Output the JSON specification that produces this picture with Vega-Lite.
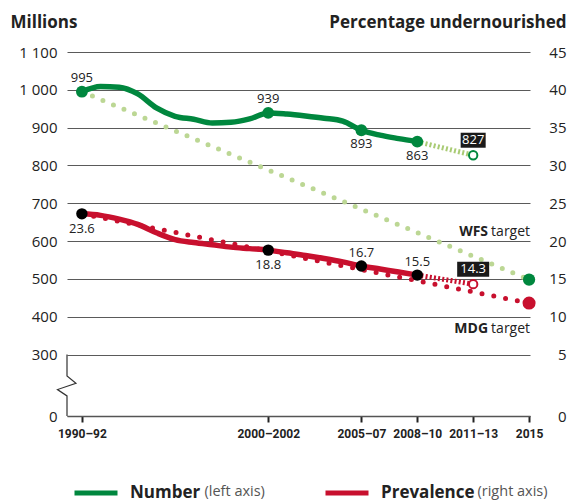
{
  "$schema": "https://vega.github.io/schema/vega-lite/v6.json",
  "width": 463,
  "height": 364,
  "autosize": {"type": "none"},
  "padding": {"left": 67, "top": 52, "right": 38, "bottom": 86},
  "config": {"font": "Open Sans", "view": {"stroke": null}},
  "datasets": {
    "green": [
      {"year": 1991, "millions": 995, "series": "Number", "axisNote": "(left axis)"},
      {"year": 1992, "millions": 1009, "series": "Number", "axisNote": "(left axis)"},
      {"year": 1993, "millions": 1007, "series": "Number", "axisNote": "(left axis)"},
      {"year": 1994, "millions": 989, "series": "Number", "axisNote": "(left axis)"},
      {"year": 1995, "millions": 952, "series": "Number", "axisNote": "(left axis)"},
      {"year": 1996, "millions": 930, "series": "Number", "axisNote": "(left axis)"},
      {"year": 1997, "millions": 922, "series": "Number", "axisNote": "(left axis)"},
      {"year": 1998, "millions": 912, "series": "Number", "axisNote": "(left axis)"},
      {"year": 1999, "millions": 914, "series": "Number", "axisNote": "(left axis)"},
      {"year": 2000, "millions": 923, "series": "Number", "axisNote": "(left axis)"},
      {"year": 2001, "millions": 939, "series": "Number", "axisNote": "(left axis)"},
      {"year": 2002, "millions": 936, "series": "Number", "axisNote": "(left axis)"},
      {"year": 2003, "millions": 931, "series": "Number", "axisNote": "(left axis)"},
      {"year": 2004, "millions": 925, "series": "Number", "axisNote": "(left axis)"},
      {"year": 2005, "millions": 917, "series": "Number", "axisNote": "(left axis)"},
      {"year": 2006, "millions": 893, "series": "Number", "axisNote": "(left axis)"},
      {"year": 2007, "millions": 880, "series": "Number", "axisNote": "(left axis)"},
      {"year": 2008, "millions": 871, "series": "Number", "axisNote": "(left axis)"},
      {"year": 2009, "millions": 863, "series": "Number", "axisNote": "(left axis)"}
    ],
    "greenProj": [{"year": 2009, "millions": 863}, {"year": 2012, "millions": 827}],
    "wfs": [{"year": 1991, "millions": 995}, {"year": 2015, "millions": 498}],
    "greenPts": [
      {"year": 1991, "millions": 995, "label": "995"},
      {"year": 2001, "millions": 939, "label": "939"},
      {"year": 2006, "millions": 893, "label": "893"},
      {"year": 2009, "millions": 863, "label": "863"}
    ],
    "greenOpen": [{"year": 2012, "millions": 827, "label": "827"}],
    "wfsPt": [{"year": 2015, "millions": 498, "name": "WFS"}],
    "axisBreak": [
      {"i": 0, "year": 1990.2, "millions": 300},
      {"i": 1, "year": 1990.2, "millions": 195},
      {"i": 2, "year": 1990.68, "millions": 160},
      {"i": 3, "year": 1989.69, "millions": 129},
      {"i": 4, "year": 1990.2, "millions": 98},
      {"i": 5, "year": 1990.2, "millions": 0}
    ],
    "red": [
      {"year": 1991, "pct": 23.6, "series": "Prevalence", "axisNote": "(right axis)"},
      {"year": 1992, "pct": 23.4, "series": "Prevalence", "axisNote": "(right axis)"},
      {"year": 1993, "pct": 22.9, "series": "Prevalence", "axisNote": "(right axis)"},
      {"year": 1994, "pct": 22.2, "series": "Prevalence", "axisNote": "(right axis)"},
      {"year": 1995, "pct": 21.1, "series": "Prevalence", "axisNote": "(right axis)"},
      {"year": 1996, "pct": 20.2, "series": "Prevalence", "axisNote": "(right axis)"},
      {"year": 1997, "pct": 19.8, "series": "Prevalence", "axisNote": "(right axis)"},
      {"year": 1998, "pct": 19.5, "series": "Prevalence", "axisNote": "(right axis)"},
      {"year": 1999, "pct": 19.2, "series": "Prevalence", "axisNote": "(right axis)"},
      {"year": 2000, "pct": 19.0, "series": "Prevalence", "axisNote": "(right axis)"},
      {"year": 2001, "pct": 18.8, "series": "Prevalence", "axisNote": "(right axis)"},
      {"year": 2002, "pct": 18.45, "series": "Prevalence", "axisNote": "(right axis)"},
      {"year": 2003, "pct": 18.1, "series": "Prevalence", "axisNote": "(right axis)"},
      {"year": 2004, "pct": 17.7, "series": "Prevalence", "axisNote": "(right axis)"},
      {"year": 2005, "pct": 17.25, "series": "Prevalence", "axisNote": "(right axis)"},
      {"year": 2006, "pct": 16.7, "series": "Prevalence", "axisNote": "(right axis)"},
      {"year": 2007, "pct": 16.3, "series": "Prevalence", "axisNote": "(right axis)"},
      {"year": 2008, "pct": 15.9, "series": "Prevalence", "axisNote": "(right axis)"},
      {"year": 2009, "pct": 15.5, "series": "Prevalence", "axisNote": "(right axis)"}
    ],
    "redProj": [{"year": 2009, "pct": 15.5}, {"year": 2012, "pct": 14.3}],
    "mdg": [{"year": 1991, "pct": 23.6}, {"year": 2015, "pct": 11.8}],
    "redPts": [
      {"year": 1991, "pct": 23.6, "label": "23.6"},
      {"year": 2001, "pct": 18.8, "label": "18.8"},
      {"year": 2006, "pct": 16.7, "label": "16.7"},
      {"year": 2009, "pct": 15.5, "label": "15.5"}
    ],
    "redOpen": [{"year": 2012, "pct": 14.3, "label": "14.3"}],
    "mdgPt": [{"year": 2015, "pct": 11.8, "name": "MDG"}]
  },
  "encoding": {
    "x": {
      "field": "year",
      "type": "quantitative",
      "scale": {"domain": [1990.2, 2015.05], "nice": false, "zero": false},
      "axis": {
        "values": [1991, 2001, 2006, 2009, 2012, 2015],
        "labelExpr": "datum.value == 1991 ? '1990–92' : datum.value == 2001 ? '2000–2002' : datum.value == 2006 ? '2005–07' : datum.value == 2009 ? '2008–10' : datum.value == 2012 ? '2011–13' : '2015'",
        "title": null,
        "grid": false,
        "domainColor": "#555",
        "domainWidth": 1.5,
        "tickColor": "#222",
        "tickWidth": 2,
        "tickSize": 6,
        "labelFont": "Roboto",
        "labelFontWeight": "bold",
        "labelFontSize": 12,
        "labelColor": "#222",
        "labelPadding": 6,
        "labelOverlap": false,
        "labelFlush": false,
        "labelBound": false
      }
    }
  },
  "layer": [
    {
      "encoding": {
        "y": {
          "field": "millions",
          "type": "quantitative",
          "scale": {"domain": [0, 300, 1100], "range": [364, 302.5, 0], "nice": false, "zero": false},
          "axis": {
            "orient": "left",
            "values": [0, 300, 400, 500, 600, 700, 800, 900, 1000, 1100],
            "labelExpr": "datum.value == 1100 ? '1 100' : datum.value == 1000 ? '1 000' : datum.label",
            "grid": true,
            "gridColor": "#5a5a5a",
            "gridWidth": 1.2,
            "domain": false,
            "ticks": false,
            "labelPadding": 10,
            "labelFontSize": 15,
            "labelColor": "#222",
            "labelFlush": false,
            "labelOverlap": false,
            "title": "Millions",
            "titleAngle": 0,
            "titleAlign": "left",
            "titleBaseline": "alphabetic",
            "titleX": -57,
            "titleY": -25,
            "titleFontSize": 17,
            "titleFontWeight": "bold",
            "titleColor": "#222"
          }
        }
      },
      "layer": [
        {
          "data": {"name": "wfs"},
          "mark": {"type": "line", "color": "#bcd794", "strokeWidth": 5, "strokeDash": [0, 11.4], "strokeCap": "round"}
        },
        {
          "data": {"name": "green"},
          "mark": {"type": "line", "strokeWidth": 5.5, "interpolate": "monotone", "strokeCap": "round"},
          "encoding": {
            "color": {
              "field": "series",
              "type": "nominal",
              "scale": {"domain": ["Number", "Prevalence"], "range": ["#00873e", "#c8102e"]},
              "legend": {
                "orient": "none",
                "legendX": 5,
                "legendY": 417,
                "direction": "horizontal",
                "title": null,
                "symbolType": "stroke",
                "symbolSize": 1849,
                "symbolStrokeWidth": 5,
                "labelFontSize": 17,
                "labelFontWeight": "bold",
                "labelColor": "#222",
                "labelOffset": 10,
                "columnPadding": 114,
                "padding": 0
              }
            },
            "opacity": {
              "field": "axisNote",
              "type": "ordinal",
              "scale": {"domain": ["(left axis)", "(right axis)"], "range": [1, 1]},
              "legend": {
                "orient": "none",
                "legendX": 123,
                "legendY": 433,
                "direction": "horizontal",
                "title": null,
                "symbolType": "circle",
                "symbolSize": 0,
                "symbolStrokeWidth": 0,
                "symbolStrokeColor": "transparent",
                "symbolFillColor": "transparent",
                "symbolOpacity": 0,
                "labelFontSize": 14.5,
                "labelColor": "#555",
                "labelOffset": 0,
                "columnPadding": 198,
                "padding": 0
              }
            }
          }
        },
        {
          "data": {"name": "greenProj"},
          "mark": {"type": "line", "color": "#a9cb74", "strokeWidth": 5, "strokeDash": [2, 2.2]}
        },
        {
          "data": {"name": "axisBreak"},
          "mark": {"type": "line", "color": "#333", "strokeWidth": 1.2},
          "encoding": {"order": {"field": "i", "type": "quantitative"}}
        },
        {
          "data": {"name": "greenPts"},
          "mark": {"type": "point", "shape": "circle", "filled": true, "size": 140, "color": "#00873e", "opacity": 1}
        },
        {
          "data": {"name": "wfsPt"},
          "mark": {"type": "point", "shape": "circle", "filled": true, "size": 150, "color": "#00873e", "opacity": 1}
        },
        {
          "data": {"name": "greenOpen"},
          "mark": {"type": "point", "shape": "circle", "filled": false, "fill": "white", "stroke": "#00873e", "strokeWidth": 2, "size": 70, "opacity": 1}
        },
        {
          "data": {"name": "greenPts"},
          "transform": [{"filter": "datum.year == 1991 || datum.year == 2001"}],
          "mark": {"type": "text", "fontSize": 13, "color": "#222", "baseline": "alphabetic", "dy": -10},
          "encoding": {"text": {"field": "label"}}
        },
        {
          "data": {"name": "greenPts"},
          "transform": [{"filter": "datum.year == 2006 || datum.year == 2009"}],
          "mark": {"type": "text", "fontSize": 13, "color": "#222", "baseline": "top", "dy": 8},
          "encoding": {"text": {"field": "label"}}
        },
        {
          "data": {"name": "greenOpen"},
          "mark": {"type": "point", "shape": "M-1,-0.6H1V0.6H-1Z", "filled": true, "color": "#1a1a1a", "size": 625, "opacity": 1, "yOffset": -15}
        },
        {
          "data": {"name": "greenOpen"},
          "mark": {"type": "text", "fontSize": 13, "color": "white", "baseline": "middle", "dy": -15},
          "encoding": {"text": {"field": "label"}}
        },
        {
          "data": {"name": "wfsPt"},
          "mark": {"type": "text", "fontSize": 14, "color": "#222", "align": "right", "baseline": "alphabetic", "dy": -44, "dx": 1},
          "encoding": {"text": {"value": "target"}}
        },
        {
          "data": {"name": "wfsPt"},
          "mark": {"type": "text", "fontSize": 14, "fontWeight": "bold", "color": "#222", "align": "right", "baseline": "alphabetic", "dy": -44, "dx": -41},
          "encoding": {"text": {"field": "name"}}
        }
      ]
    },
    {
      "encoding": {
        "y": {
          "field": "pct",
          "type": "quantitative",
          "scale": {"domain": [0, 5, 45], "range": [364, 302.5, 0], "nice": false, "zero": false},
          "axis": {
            "orient": "right",
            "values": [0, 5, 10, 15, 20, 25, 30, 35, 40, 45],
            "grid": false,
            "domain": false,
            "ticks": false,
            "labelAlign": "right",
            "labelPadding": 36,
            "labelFontSize": 15,
            "labelColor": "#222",
            "labelFlush": false,
            "labelOverlap": false,
            "title": "Percentage undernourished",
            "titleAngle": 0,
            "titleAlign": "right",
            "titleBaseline": "alphabetic",
            "titleX": 36,
            "titleY": -25,
            "titleFontSize": 17,
            "titleFontWeight": "bold",
            "titleColor": "#222"
          }
        }
      },
      "layer": [
        {
          "data": {"name": "mdg"},
          "mark": {"type": "line", "color": "#c8102e", "strokeWidth": 5, "strokeDash": [0, 12], "strokeCap": "round"}
        },
        {
          "data": {"name": "red"},
          "mark": {"type": "line", "strokeWidth": 5.5, "interpolate": "monotone", "strokeCap": "round"},
          "encoding": {
            "color": {"field": "series", "type": "nominal"},
            "opacity": {"field": "axisNote", "type": "ordinal"}
          }
        },
        {
          "data": {"name": "redProj"},
          "mark": {"type": "line", "color": "#c8102e", "strokeWidth": 5, "strokeDash": [2, 2.2]}
        },
        {
          "data": {"name": "redPts"},
          "mark": {"type": "point", "shape": "circle", "filled": true, "size": 130, "color": "#000", "opacity": 1}
        },
        {
          "data": {"name": "mdgPt"},
          "mark": {"type": "point", "shape": "circle", "filled": true, "size": 170, "color": "#c8102e", "opacity": 1}
        },
        {
          "data": {"name": "redOpen"},
          "mark": {"type": "point", "shape": "circle", "filled": false, "fill": "white", "stroke": "#c8102e", "strokeWidth": 2, "size": 70, "opacity": 1}
        },
        {
          "data": {"name": "redPts"},
          "transform": [{"filter": "datum.year == 1991 || datum.year == 2001"}],
          "mark": {"type": "text", "fontSize": 13, "color": "#222", "baseline": "top", "dy": 9},
          "encoding": {"text": {"field": "label"}}
        },
        {
          "data": {"name": "redPts"},
          "transform": [{"filter": "datum.year == 2006 || datum.year == 2009"}],
          "mark": {"type": "text", "fontSize": 13, "color": "#222", "baseline": "alphabetic", "dy": -9},
          "encoding": {"text": {"field": "label"}}
        },
        {
          "data": {"name": "redOpen"},
          "mark": {"type": "point", "shape": "M-1,-0.47H1V0.47H-1Z", "filled": true, "color": "#1a1a1a", "size": 1024, "opacity": 1, "yOffset": -15}
        },
        {
          "data": {"name": "redOpen"},
          "mark": {"type": "text", "fontSize": 13, "color": "white", "baseline": "middle", "dy": -15},
          "encoding": {"text": {"field": "label"}}
        },
        {
          "data": {"name": "mdgPt"},
          "mark": {"type": "text", "fontSize": 14, "color": "#222", "align": "right", "baseline": "alphabetic", "dy": 30, "dx": 1},
          "encoding": {"text": {"value": "target"}}
        },
        {
          "data": {"name": "mdgPt"},
          "mark": {"type": "text", "fontSize": 14, "fontWeight": "bold", "color": "#222", "align": "right", "baseline": "alphabetic", "dy": 30, "dx": -41},
          "encoding": {"text": {"field": "name"}}
        }
      ]
    }
  ],
  "resolve": {"scale": {"y": "independent"}}
}
